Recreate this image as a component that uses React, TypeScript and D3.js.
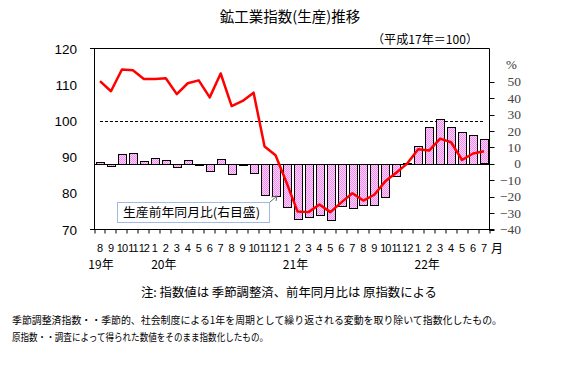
import React from 'react';
import * as d3 from 'd3';

const months = ['8','9','10','11','12','1','2','3','4','5','6','7','8','9','10','11','12','1','2','3','4','5','6','7','8','9','10','11','12','1','2','3','4','5','6','7'];
const yearLabels = ['19年', '20年', '21年', '22年'];
const yearStartIdx = [0, 5, 17, 29];
const indexValues = [111.0,108.2,114.2,114.0,111.6,111.6,111.8,107.4,110.4,111.2,106.5,113.1,104.1,105.5,107.8,92.9,90.5,83.0,75.0,74.8,76.9,74.8,77.5,80.0,78.0,79.6,83.3,85.7,88.2,92.2,91.8,95.1,94.1,89.2,91.0,91.6];
const yoyValues = [1.2,-1.2,6.1,6.7,1.8,3.7,2.4,-1.8,2.4,-0.5,-4.2,3.1,-6.1,-0.3,-5.4,-18.9,-19.5,-26.2,-33.7,-32.2,-31.1,-34.3,-25.6,-26.9,-24.9,-24.9,-20.2,-7.3,0.5,11.0,22.6,27.5,22.6,19.6,17.7,14.9];
const leftTicks = [70, 80, 90, 100, 110, 120];
const rightTicks = [-40, -30, -20, -10, 0, 10, 20, 30, 40, 50];
const refLine = 100;

const JP = '"Noto Sans CJK JP", sans-serif';

export default function App() {
  const X0 = 94.5, X1 = 489.5, YT = 48.5, YB = 229.5;
  const n = months.length;
  const x = d3.scaleBand<number>().domain(d3.range(n)).range([X0, X1]).paddingInner(0.3).paddingOuter(0.15);
  const step = (X1 - X0) / n;
  const bw = x.bandwidth();
  const cx = (i: number) => (x(i) as number) + bw / 2;
  const yL = d3.scaleLinear().domain([70, 120]).range([YB, YT]);
  const yR = d3.scaleLinear().domain([-40, 70.3]).range([YB, YT]);
  const line = d3.line<number>().x((_, i) => cx(i)).y(v => yL(v));
  const y0 = Math.round(yR(0)) + 0.5;

  return (
    <svg width={578} height={375} style={{ position: 'absolute', left: 0, top: 0, background: '#fff' }}>
      <defs>
        <pattern id="pk" width="2" height="2" patternUnits="userSpaceOnUse">
          <rect width="2" height="2" fill="#ffd0fb" />
          <rect width="1" height="1" fill="#f090ec" />
          <rect x="1" y="1" width="1" height="1" fill="#f090ec" />
        </pattern>
      </defs>
      <rect width={578} height={375} fill="#fff" />
      <text x={290} y={22} textAnchor="middle" fontFamily={JP} fontSize={14.5} fill="#000">鉱工業指数(生産)推移</text>
      <text x={425} y={44} textAnchor="middle" fontFamily={JP} fontSize={12} fill="#000" textLength={106} lengthAdjust="spacingAndGlyphs">（平成17年＝100）</text>

      {/* left labels */}
      {leftTicks.map(t => (
        <text key={'l' + t} x={77} y={yL(t) + 5} textAnchor="end" fontFamily="Liberation Sans, sans-serif" fontSize={13.5} fill="#000">{t}</text>
      ))}
      {/* right labels */}
      <text x={506} y={69} fontFamily="Liberation Serif, serif" fontSize={13} fill="#333">%</text>
      {rightTicks.map(t => (
        <g key={'r' + t}>
          <line x1={X1} x2={X1 + 5} y1={Math.round(yR(t)) + 0.5} y2={Math.round(yR(t)) + 0.5} stroke="#000" />
          <text x={521} y={yR(t) + 4.5} textAnchor="end" fontFamily="Liberation Serif, serif" fontSize={13.5} fill="#444">{t < 0 ? '−' + Math.abs(t) : t}</text>
        </g>
      ))}

      {/* reference dashed line */}
      <line x1={cx(0)} x2={cx(n - 1)} y1={Math.round(yL(refLine)) + 0.5} y2={Math.round(yL(refLine)) + 0.5} stroke="#000" strokeDasharray="3,2" />

      {/* bars */}
      {yoyValues.map((v, i) => {
        const top = Math.min(yR(v), yR(0));
        const h = Math.abs(yR(v) - yR(0));
        return <rect key={'b' + i} x={Math.round(x(i) as number) + 0.5} y={Math.round(top) + 0.5} width={Math.round(bw)} height={Math.max(Math.round(h), 1)} fill="url(#pk)" stroke="#000" strokeWidth={1} />;
      })}
      <line x1={X0} x2={X1} y1={y0} y2={y0} stroke="#000" />

      {/* line */}
      <path d={line(indexValues) || ''} fill="none" stroke="#ff0000" strokeWidth={2.5} strokeLinejoin="round" />

      {/* frame */}
      <line x1={90} x2={X1} y1={YT} y2={YT} stroke="#000" />
      <line x1={X0} x2={X0} y1={YT} y2={YB} stroke="#000" />
      <line x1={X1} x2={X1} y1={YT} y2={YB} stroke="#000" />
      <line x1={90} x2={X1 + 5} y1={YB} y2={YB} stroke="#000" />
      {d3.range(n + 1).map(k => (
        <line key={'t' + k} x1={Math.round(X0 + k * step) + 0.5 - 0.5} x2={Math.round(X0 + k * step)} y1={YB} y2={YB + 4} stroke="#000" />
      ))}

      {/* month labels */}
      {months.map((m, i) => (
        <text key={'m' + i} x={cx(i)} y={252} textAnchor="middle" fontFamily="Liberation Sans, sans-serif" fontSize={11} letterSpacing={m.length > 1 ? -1 : 0} fill="#000">{m}</text>
      ))}
      <text x={cx(n - 1) + 13} y={253} textAnchor="middle" fontFamily={JP} fontSize={12} fill="#000">月</text>
      {yearLabels.map((yl, k) => (
        <text key={'y' + k} x={k === 0 ? cx(yearStartIdx[k]) + 1 : cx(yearStartIdx[k]) + 9} y={269} textAnchor="middle" fontFamily={JP} fontSize={12} fill="#000">{yl}</text>
      ))}

      {/* legend callout */}
      <rect x={117.5} y={202.5} width={152} height={20} fill="#fff" stroke="#4472c4" strokeDasharray="1,1" />
      <text x={123} y={217} fontFamily={JP} fontSize={12.5} fill="#000" textLength={137} lengthAdjust="spacingAndGlyphs">生産前年同月比(右目盛)</text>
      <line x1={270} y1={202} x2={277} y2={196} stroke="#666" />
      <path d="M277,196 L271.5,197 M277,196 L276,201" stroke="#666" fill="none" />

      {/* notes */}
      <text x={289} y={297} textAnchor="middle" fontFamily={JP} fontSize={12.5} fill="#000" textLength={296} lengthAdjust="spacingAndGlyphs">注: 指数値は 季節調整済、前年同月比は 原指数による</text>
      <text x={12} y={324} fontFamily={JP} fontSize={10} fill="#000" textLength={490} lengthAdjust="spacingAndGlyphs">季節調整済指数・・季節的、社会制度による1年を周期として繰り返される変動を取り除いて指数化したもの。</text>
      <text x={12} y={341} fontFamily={JP} fontSize={10} fill="#000" textLength={256} lengthAdjust="spacingAndGlyphs">原指数・・調査によって得られた数値をそのまま指数化したもの。</text>
    </svg>
  );
}
